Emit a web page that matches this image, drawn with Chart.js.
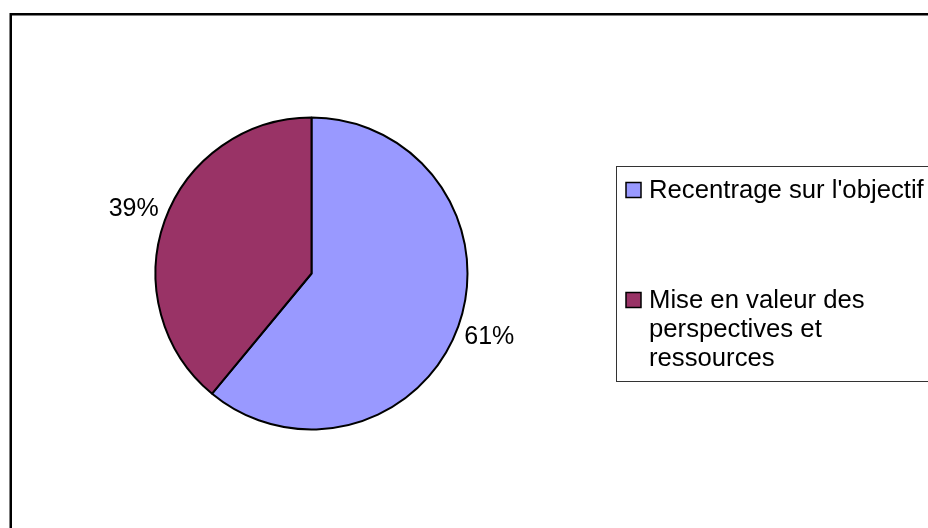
<!DOCTYPE html>
<html><head><meta charset="utf-8">
<script src="https://cdn.jsdelivr.net/npm/chart.js@4/dist/chart.umd.min.js"></script>
<style>html,body{margin:0;padding:0;background:#fff;overflow:hidden}#wrap{width:928px;height:528px;position:relative}</style>
</head><body><div id="wrap"><canvas id="c" width="928" height="528"></canvas></div>
<script>
const categories = [["Recentrage sur l'objectif"], ["Mise en valeur des", "perspectives et", "ressources"]];
const values = [61, 39];
const percentLabels = ["61%", "39%"];
const sliceColors = ["#9999FF", "#993366"];

const FONT = '25px "Liberation Sans", Arial, sans-serif';
const LEGEND_FONT = '25.7px "Liberation Sans", Arial, sans-serif';

const framePlugin = {
  id: 'frame',
  beforeDraw(chart) {
    const ctx = chart.ctx;
    ctx.save();
    ctx.fillStyle = '#fff';
    ctx.fillRect(0, 0, chart.width, chart.height);
    ctx.strokeStyle = '#000';
    ctx.lineWidth = 2.5;
    ctx.strokeRect(10.75, 14.25, chart.width + 20, chart.height + 20);
    ctx.restore();
  }
};

const pctPlugin = {
  id: 'pct',
  afterDatasetsDraw(chart) {
    const ctx = chart.ctx;
    const meta = chart.getDatasetMeta(0);
    ctx.save();
    ctx.font = FONT;
    ctx.fillStyle = '#000';
    ctx.textAlign = 'center';
    ctx.textBaseline = 'middle';
    meta.data.forEach((arc, i) => {
      const p = arc.getProps(['x', 'y', 'startAngle', 'endAngle', 'outerRadius'], true);
      const mid = (p.startAngle + p.endAngle) / 2;
      const r = p.outerRadius + 33;
      ctx.fillText(percentLabels[i], p.x + Math.cos(mid) * r, p.y + Math.sin(mid) * r);
    });
    ctx.restore();
  }
};

const legendPlugin = {
  id: 'boxLegend',
  afterDraw(chart) {
    const ctx = chart.ctx;
    const ds = chart.data.datasets[0];
    ctx.save();
    ctx.strokeStyle = '#333';
    ctx.lineWidth = 1;
    ctx.strokeRect(616.5, 166.5, 400, 215);
    ctx.font = LEGEND_FONT;
    ctx.textBaseline = 'middle';
    ctx.textAlign = 'left';
    const itemTops = [190, 300];
    const lineH = 29;
    chart.data.labels.forEach((lab, i) => {
      const cy = itemTops[i];
      ctx.fillStyle = ds.backgroundColor[i];
      ctx.fillRect(626, cy - 7.5, 15, 15);
      ctx.strokeStyle = '#000';
      ctx.lineWidth = 1.5;
      ctx.strokeRect(626, cy - 7.5, 15, 15);
      ctx.fillStyle = '#000';
      const lines = Array.isArray(lab) ? lab : [lab];
      lines.forEach((t, k) => ctx.fillText(t, 649, cy + 1 + k * lineH));
    });
    ctx.restore();
  }
};

new Chart(document.getElementById('c'), {
  type: 'pie',
  data: {
    labels: categories,
    datasets: [{
      data: values,
      backgroundColor: sliceColors,
      borderColor: '#000',
      borderWidth: 2,
      radius: 156
    }]
  },
  options: {
    responsive: false,
    animation: false,
    devicePixelRatio: 1,
    layout: { padding: { left: 150, right: 455, top: 110, bottom: 91 } },
    plugins: { legend: { display: false }, tooltip: { enabled: false }, title: { display: false } }
  },
  plugins: [framePlugin, pctPlugin, legendPlugin]
});
</script>
</body></html>
